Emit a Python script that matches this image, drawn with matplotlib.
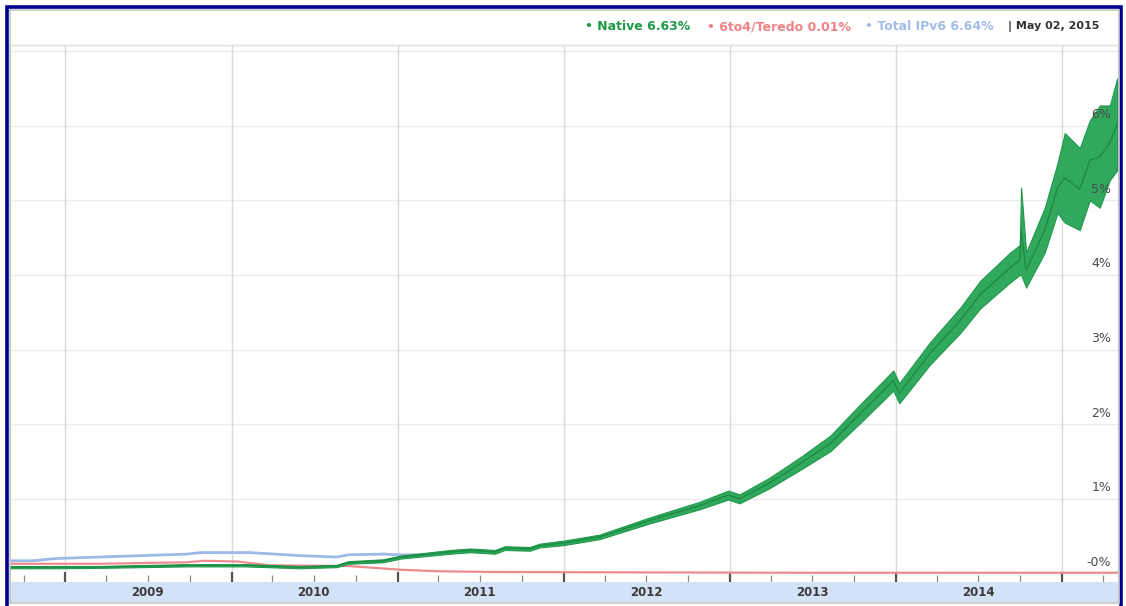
import matplotlib
matplotlib.use("Agg")
import matplotlib.pyplot as plt
import matplotlib.dates as mdates
from matplotlib.patches import Rectangle
import pandas as pd

# -----------------------------
# Data (% of users)
# -----------------------------
native_dates = [
    "2008-09-01", "2008-12-01", "2009-03-15", "2009-09-25", "2010-02-01",
    "2010-05-30", "2010-08-20", "2010-09-15", "2010-11-30", "2011-01-08",
    "2011-04-27", "2011-06-10", "2011-08-03", "2011-08-25", "2011-10-19",
    "2011-11-10", "2012-01-01", "2012-03-20", "2012-07-08", "2012-10-26",
    "2012-12-28", "2013-01-22", "2013-03-28", "2013-06-05", "2013-08-10",
    "2013-10-15", "2013-12-26", "2014-01-08", "2014-03-17", "2014-05-22",
    "2014-07-05", "2014-09-09", "2014-09-30", "2014-10-03", "2014-10-14",
    "2014-11-24", "2014-12-22", "2015-01-07", "2015-02-09", "2015-03-03",
    "2015-03-25", "2015-04-16", "2015-05-02",
]
native_lo = [
    0.07, 0.07, 0.075, 0.095, 0.095,
    0.07, 0.085, 0.13, 0.15, 0.20,
    0.265, 0.285, 0.265, 0.315, 0.305,
    0.35, 0.38, 0.46, 0.67, 0.86,
    0.99, 0.94, 1.14, 1.39, 1.64,
    2.02, 2.45, 2.28, 2.80, 3.22,
    3.55, 3.90, 4.00, 4.00, 3.83,
    4.30, 4.83, 4.70, 4.60, 5.00,
    4.90, 5.27, 5.40,
]
native_hi = [
    0.10, 0.10, 0.10, 0.125, 0.125,
    0.10, 0.115, 0.165, 0.19, 0.24,
    0.315, 0.335, 0.315, 0.365, 0.355,
    0.40, 0.44, 0.52, 0.75, 0.96,
    1.11, 1.06, 1.28, 1.56, 1.85,
    2.27, 2.72, 2.55, 3.10, 3.56,
    3.92, 4.30, 4.40, 5.17, 4.30,
    4.90, 5.50, 5.90, 5.70, 6.07,
    6.27, 6.27, 6.63,
]

# total IPv6 is only visible until it disappears under the native band
total_dates = [
    "2008-09-01", "2008-10-20", "2008-12-10", "2009-03-15", "2009-09-25",
    "2009-10-25", "2010-02-10", "2010-05-30", "2010-08-20", "2010-09-15",
    "2010-11-30", "2011-01-08", "2011-02-15",
]
total_vals = [
    0.17, 0.17, 0.20, 0.22, 0.26,
    0.28, 0.28, 0.24, 0.22, 0.25,
    0.26, 0.25, 0.25,
]

teredo_dates = [
    "2008-09-01", "2009-03-15", "2009-09-25", "2009-11-01", "2010-01-15",
    "2010-03-25", "2010-09-15", "2010-11-01", "2011-01-08", "2011-04-01",
    "2011-08-01", "2012-06-01", "2013-06-01", "2015-05-02",
]
teredo_vals = [
    0.13, 0.13, 0.15, 0.17, 0.16,
    0.11, 0.10, 0.08, 0.05, 0.03,
    0.02, 0.015, 0.01, 0.01,
]

years = [2009, 2010, 2011, 2012, 2013, 2014]
y_ticks = [0, 1, 2, 3, 4, 5, 6]
y_labels = ["-0%", "1%", "2%", "3%", "4%", "5%", "6%"]

native_dates = pd.to_datetime(native_dates)
total_dates = pd.to_datetime(total_dates)
teredo_dates = pd.to_datetime(teredo_dates)

# -----------------------------
# Figure and frames
# -----------------------------
W, H = 1126, 606
fig = plt.figure(figsize=(W / 100, H / 100), dpi=100)
fig.patch.set_facecolor("white")

# navy outer border
fig.add_artist(Rectangle((7.5 / W, -0.02), 1113 / W, 1.02 - 7 / H,
                         transform=fig.transFigure, fill=False,
                         edgecolor="#00008b", linewidth=2.6))
# grey panel frame
fig.add_artist(Rectangle((10 / W, 1 - 603 / H), 1109 / W, 593 / H,
                         transform=fig.transFigure, fill=False,
                         edgecolor="#c4c4c4", linewidth=1.2))

ax = fig.add_axes([10 / W, (H - 582) / H, 1108 / W, 537 / H])
band = fig.add_axes([10 / W, (H - 602) / H, 1108 / W, 20 / H], sharex=ax)

# -----------------------------
# Series
# -----------------------------
ax.plot(total_dates, total_vals, color="#9db9e6", linewidth=2, zorder=2)
ax.plot(teredo_dates, teredo_vals, color="#ec8c8e", linewidth=1.6, zorder=3)
ax.fill_between(native_dates, native_lo, native_hi, color="#31a85e",
                linewidth=0.8, edgecolor="#1f9a4c", zorder=4)
native_mid = [(a + b) / 2 for a, b in zip(native_lo, native_hi)]
ax.plot(native_dates, native_mid, color="#1a8d42", linewidth=1.0, zorder=5)

# -----------------------------
# Axes styling
# -----------------------------
x0 = pd.Timestamp("2008-09-01")
x1 = pd.Timestamp("2015-05-04")
ax.set_xlim(x0, x1)
ax.set_ylim(-0.114, 7.08)

for yv in y_ticks[1:] + [7]:
    ax.axhline(yv, color="#ececec", linewidth=1, zorder=0)
for yr in years + [2015]:
    ax.axvline(pd.Timestamp(f"{yr}-01-01"), color="#d9d9d9", linewidth=1, zorder=0)

for yv, lab in zip(y_ticks, y_labels):
    ax.annotate(lab, xy=(0.994, yv), xycoords=ax.get_yaxis_transform(),
                xytext=(0, 8), textcoords="offset points",
                ha="right", va="center", fontsize=9, color="#4a4a4a", zorder=6)

ax.set_yticks([])
ax.xaxis.set_major_locator(mdates.YearLocator())
ax.xaxis.set_minor_locator(mdates.MonthLocator(bymonth=[1, 4, 7, 10]))
ax.tick_params(axis="x", which="major", direction="in", length=7, width=1.6,
               color="#555555", labelbottom=False)
ax.tick_params(axis="x", which="minor", direction="in", length=5, width=0.9,
               color="#888888")
for s in ax.spines.values():
    s.set_color("#d0d0d0")
    s.set_linewidth(0.8)
ax.spines["bottom"].set_visible(False)

band.set_facecolor("#d3e2f6")
band.set_ylim(0, 1)
band.set_yticks([])
band.tick_params(axis="x", which="both", length=0, labelbottom=False)
for s in band.spines.values():
    s.set_visible(False)
for yr in years:
    band.text(pd.Timestamp(f"{yr}-07-01"), 0.5, str(yr), ha="center", va="center",
              fontsize=8.5, fontweight="bold", color="#3a3a3a")

# header separator
fig.add_artist(plt.Line2D([10 / W, 1118 / W], [1 - 45 / H, 1 - 45 / H],
                          transform=fig.transFigure, color="#e2e2e2", linewidth=1))

# -----------------------------
# Header legend
# -----------------------------
hy = 1 - 27 / H
fig.text(585 / W, hy, "• Native 6.63%", color="#1e9a48", fontsize=9,
         fontweight="bold", va="center")
fig.text(707 / W, hy, "• 6to4/Teredo 0.01%", color="#ee8286", fontsize=9,
         fontweight="bold", va="center")
fig.text(865 / W, hy, "• Total IPv6 6.64%", color="#a2bde9", fontsize=9,
         fontweight="bold", va="center")
fig.text(1008 / W, hy, "| May 02, 2015", color="#333333", fontsize=8,
         fontweight="bold", va="center")

fig.savefig("out.png", dpi=100)
